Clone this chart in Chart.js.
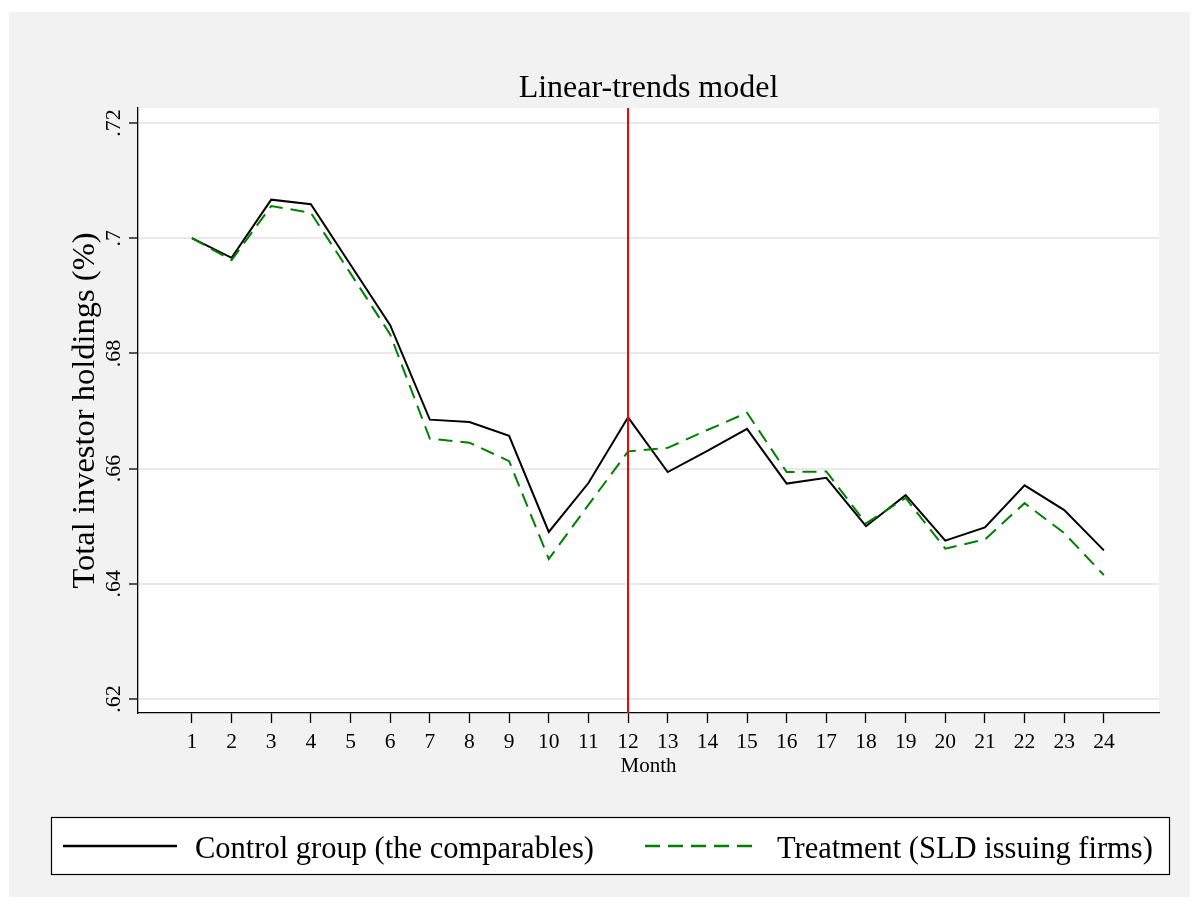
<!DOCTYPE html>
<html>
<head>
<meta charset="utf-8">
<script src="https://cdn.jsdelivr.net/npm/chart.js@4.4.0/dist/chart.umd.min.js"></script>
<style>
  body { margin: 0; background: #fff; }
  #wrap { width: 1200px; height: 909px; }
</style>
</head>
<body>
<div id="wrap"><canvas id="grafico" width="1200" height="909"></canvas></div>
<script>
const months = [1, 2, 3, 4, 5, 6, 7, 8, 9, 10, 11, 12, 13, 14, 15, 16, 17, 18, 19, 20, 21, 22, 23, 24];
const control = [.7000, .6966, .7067, .7059, .6954, .6849, .6685, .6681, .6657, .6490, .6575, .6689,
                 .6594, .6631, .6669, .6574, .6584, .6500, .6554, .6475, .6498, .6571, .6528, .6458];
const treatment = [.7000, .6962, .7056, .7044, .6939, .6833, .6652, .6645, .6613, .6443, .6537, .6630,
                   .6636, .6667, .6697, .6594, .6595, .6505, .6549, .6461, .6477, .6540, .6488, .6415];
const yTicks = [.62, .64, .66, .68, .70, .72];
const yTickLabels = ['.62', '.64', '.66', '.68', '.7', '.72'];
const eventMonth = 12;

const serif = '"Liberation Serif", "Times New Roman", serif';

// fundo cinza, area do grafico branca, linha vermelha, textos e legenda
const desenho = {
  id: 'desenho',
  beforeDraw(chart) {
    const ctx = chart.ctx;
    const a = chart.chartArea;
    ctx.save();
    ctx.fillStyle = '#f2f2f2';
    ctx.fillRect(9, 12, 1181, 885);
    ctx.fillStyle = '#fff';
    ctx.fillRect(a.left, a.top, a.right - a.left, a.bottom - a.top);
    ctx.restore();
  },
  afterDatasetsDraw(chart) {
    const ctx = chart.ctx;
    const a = chart.chartArea;
    const xs = chart.scales.x;
    ctx.save();
    const xv = Math.round(xs.getPixelForValue(eventMonth));
    ctx.strokeStyle = '#ff0000';
    ctx.lineWidth = 2;
    ctx.beginPath();
    ctx.moveTo(xv, a.top);
    ctx.lineTo(xv, a.bottom);
    ctx.stroke();
    ctx.restore();
  },
  afterDraw(chart) {
    const ctx = chart.ctx;
    const a = chart.chartArea;
    const xs = chart.scales.x, ys = chart.scales.y;
    const cx = (a.left + a.right) / 2;
    const cy = (a.top + a.bottom) / 2;
    ctx.save();
    ctx.fillStyle = '#000';
    ctx.textBaseline = 'alphabetic';

    ctx.font = '32px ' + serif;
    ctx.textAlign = 'center';
    ctx.fillText('Linear-trends model', cx, 97);

    // titulo do eixo y
    ctx.save();
    ctx.translate(94, cy);
    ctx.rotate(-Math.PI / 2);
    ctx.font = '32.5px ' + serif;
    ctx.fillText('Total investor holdings (%)', 0, 0);
    ctx.restore();

    // rotulos do eixo y, girados
    ctx.font = '22px ' + serif;
    yTicks.forEach((v, i) => {
      ctx.save();
      ctx.translate(120, ys.getPixelForValue(v));
      ctx.rotate(-Math.PI / 2);
      ctx.fillText(yTickLabels[i], 0, 0);
      ctx.restore();
    });

    // rotulos do eixo x
    ctx.font = '21.5px ' + serif;
    months.forEach(m => {
      ctx.fillText(String(m), xs.getPixelForValue(m), 748);
    });
    ctx.font = '21px ' + serif;
    ctx.fillText('Month', cx, 772);

    // legenda
    ctx.fillStyle = '#fff';
    ctx.fillRect(51, 817, 1118, 57);
    ctx.strokeStyle = '#000';
    ctx.lineWidth = 1.2;
    ctx.strokeRect(51.5, 817.5, 1118, 57);

    ctx.lineWidth = 2.5;
    ctx.beginPath();
    ctx.moveTo(63, 846);
    ctx.lineTo(177, 846);
    ctx.stroke();

    ctx.strokeStyle = '#008000';
    ctx.setLineDash([15, 8]);
    ctx.beginPath();
    ctx.moveTo(645, 846);
    ctx.lineTo(757, 846);
    ctx.stroke();
    ctx.setLineDash([]);

    ctx.fillStyle = '#000';
    ctx.font = '30.5px ' + serif;
    ctx.textAlign = 'left';
    ctx.fillText('Control group (the comparables)', 195, 858);
    ctx.fillText('Treatment (SLD issuing firms)', 777, 858);
    ctx.restore();
  }
};

new Chart(document.getElementById('grafico'), {
  type: 'line',
  data: {
    datasets: [{
      label: 'Control group (the comparables)',
      data: months.map((m, i) => ({ x: m, y: control[i] })),
      borderColor: '#000',
      borderWidth: 2,
      pointRadius: 0,
      tension: 0,
      order: 2
    }, {
      label: 'Treatment (SLD issuing firms)',
      data: months.map((m, i) => ({ x: m, y: treatment[i] })),
      borderColor: '#008000',
      borderWidth: 2,
      borderDash: [14, 8],
      pointRadius: 0,
      tension: 0,
      order: 1
    }]
  },
  options: {
    responsive: false,
    animation: false,
    layout: { padding: { left: 98, right: 41, top: 108, bottom: 136 } },
    plugins: { legend: { display: false }, title: { display: false }, tooltip: { enabled: false } },
    scales: {
      x: {
        type: 'linear',
        min: -0.36,
        max: 25.39,
        afterBuildTicks: s => { s.ticks = months.map(v => ({ value: v })); },
        afterFit: s => { s.height = 60; },
        ticks: { display: false },
        grid: { display: true, drawOnChartArea: false, drawTicks: true, tickLength: 10, tickColor: '#000', tickWidth: 1.3 },
        border: { display: true, color: '#000', width: 1.3 }
      },
      y: {
        min: 0.61757,
        max: 0.72261,
        afterBuildTicks: s => { s.ticks = yTicks.map(v => ({ value: v })); },
        afterFit: s => { s.width = 40; },
        ticks: { display: false },
        grid: { color: '#eaeaea', lineWidth: 2, drawTicks: true, tickLength: 9, tickColor: '#000', tickWidth: 1.3 },
        border: { display: true, color: '#000', width: 1.3 }
      }
    }
  },
  plugins: [desenho]
});
</script>
</body>
</html>
